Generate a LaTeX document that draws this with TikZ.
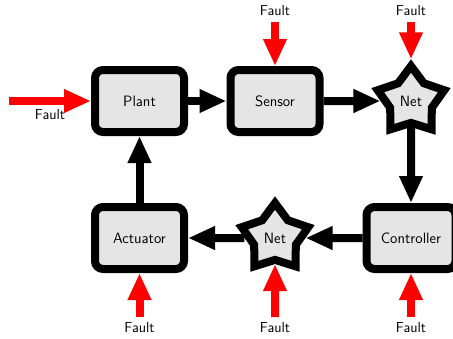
\documentclass[tikz,border=0pt]{standalone}
\usetikzlibrary{shapes.geometric,arrows.meta}
\tikzset{
  block/.style={draw=black, line width=8pt, fill=black!10, rounded corners=8pt,
    minimum width=89pt, minimum height=62pt, inner sep=0pt, outer sep=4pt,
    font=\sffamily\fontsize{15}{17}\selectfont},
  netstar/.style={draw=black, line width=8pt, fill=black!10, star, star points=5,
    star point ratio=1.6, minimum size=70pt, inner sep=0pt, outer sep=4pt,
    font=\sffamily\fontsize{15}{17}\selectfont},
  flow/.style={line width=8pt, -{Triangle[length=27pt,width=22pt]}},
  fault/.style={flow, red},
  faultlabel/.style={inner sep=0pt, font=\sffamily\fontsize{14.5}{16}\selectfont}
}
\begin{document}
\begin{tikzpicture}[x=1pt, y=-1pt]
  \useasboundingbox (0,0) rectangle (453,338);

  % control loop
  \node[block] (plant) at (139.5,101) {Plant};
  \node[block] (sensor) at (275,101) {Sensor};
  \node[netstar] (net1) at (411,101) {Net};
  \node[block] (ctrl) at (411,238) {Controller};
  \node[netstar] (net2) at (275,238) {Net};
  \node[block] (act) at (139.5,238) {Actuator};

  \draw[flow] (plant) -- (sensor);
  \draw[flow] (sensor) -- (net1);
  \draw[flow] (net1) -- (ctrl);
  \draw[flow] (ctrl) -- (net2);
  \draw[flow] (net2) -- (act);
  \draw[flow] (act) -- (plant);

  % fault injections
  \coordinate (fp) at (9,101);
  \node[faultlabel] (lp) at (50,115) {Fault};
  \draw[fault] (fp) -- (plant);

  \coordinate (fs) at (275,22);
  \node[faultlabel] (ls) at (275,11) {Fault};
  \draw[fault] (fs) -- (sensor);

  \coordinate (fn1) at (411,22);
  \node[faultlabel] (ln1) at (411,11) {Fault};
  \draw[fault] (fn1) -- (net1);

  \coordinate (fa) at (139.5,317);
  \node[faultlabel] (la) at (139.5,328) {Fault};
  \draw[fault] (fa) -- (act);

  \coordinate (fn2) at (275,317);
  \node[faultlabel] (ln2) at (275,328) {Fault};
  \draw[fault] (fn2) -- (net2);

  \coordinate (fc) at (411,317);
  \node[faultlabel] (lc) at (411,328) {Fault};
  \draw[fault] (fc) -- (ctrl);
\end{tikzpicture}
\end{document}
